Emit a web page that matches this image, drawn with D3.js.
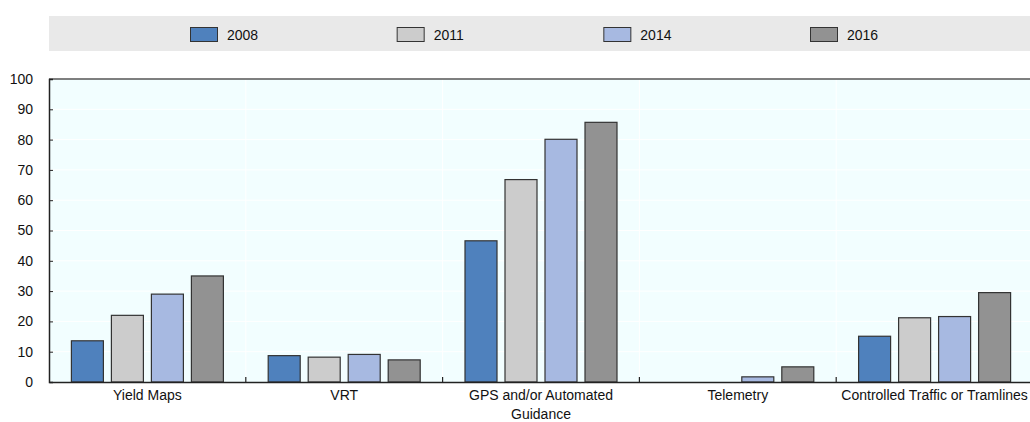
<!DOCTYPE html>
<html><head><meta charset="utf-8">
<script src="https://cdn.jsdelivr.net/npm/d3@7"></script>
<style>body{margin:0;background:#fff}svg{display:block;font-family:"Liberation Sans",Arial,sans-serif}</style>
</head><body><svg id="c" width="1030" height="422"></svg>
<script>
const categories = ["Yield Maps","VRT","GPS and/or Automated Guidance","Telemetry","Controlled Traffic or Tramlines"];
const categoryLines = [["Yield Maps"],["VRT"],["GPS and/or Automated","Guidance"],["Telemetry"],["Controlled Traffic or Tramlines"]];
const years = ["2008","2011","2014","2016"];
const v2008 = [13.6, 8.7, 46.6, null, 15.1];
const v2011 = [22.0, 8.2, 66.8, null, 21.2];
const v2014 = [29.0, 9.1, 80.1, 1.7, 21.6];
const v2016 = [35.0, 7.3, 85.7, 5.0, 29.5];
const yTicks = [0,10,20,30,40,50,60,70,80,90,100];
const colors = ["#4f81bd","#cccccc","#a7b9e1","#929292"];
const series = [v2008, v2011, v2014, v2016];

const svg = d3.select("#c");
const L = 49, R = 1033, T = 79, B = 382;
const x = d3.scaleBand().domain(categories).range([L, R]);
const xi = d3.scaleBand().domain(years).range([0, x.bandwidth()]).paddingInner(0.2).paddingOuter(0.56);
const y = d3.scaleLinear().domain([0,100]).range([B, T]);

// legend band
svg.append("rect").attr("x", L).attr("y", 16).attr("width", 1030 - L).attr("height", 35).attr("fill", "#e9e9e9");
const lx = d3.scalePoint().domain(years).range([190, 810]);
years.forEach((yr, i) => {
  svg.append("rect").attr("x", lx(yr) + 0.5).attr("y", 27.5).attr("width", 27).attr("height", 14)
    .attr("fill", colors[i]).attr("stroke", "#333").attr("stroke-width", 1);
  svg.append("text").attr("x", lx(yr) + 37).attr("y", 39.5).attr("font-size", 14).attr("fill", "#111").text(yr);
});

// plot background
svg.append("rect").attr("x", L).attr("y", T).attr("width", R - L).attr("height", B - T).attr("fill", "#f2feff");
// faint gridlines
svg.append("g").selectAll("line").data(yTicks.slice(1, -1)).join("line")
  .attr("x1", L).attr("x2", R).attr("y1", d => y(d)).attr("y2", d => y(d))
  .attr("stroke", "#ffffff").attr("stroke-width", 1);
svg.append("g").selectAll("line").data(categories.slice(1)).join("line")
  .attr("x1", d => x(d)).attr("x2", d => x(d)).attr("y1", T).attr("y2", B)
  .attr("stroke", "#ffffff").attr("stroke-width", 1);

// bars
categories.forEach((c, ci) => {
  years.forEach((yr, si) => {
    const v = series[si][ci];
    if (v == null) return;
    svg.append("rect")
      .attr("x", x(c) + xi(yr)).attr("y", y(v))
      .attr("width", xi.bandwidth()).attr("height", B - y(v))
      .attr("fill", colors[si]).attr("stroke", "#333").attr("stroke-width", 1.2);
  });
});

// top border
svg.append("line").attr("x1", L).attr("x2", R).attr("y1", T).attr("y2", T).attr("stroke", "#555").attr("stroke-width", 1.5);

// y axis
const ya = svg.append("g").attr("transform", `translate(${L},0)`)
  .call(d3.axisLeft(y).tickValues(yTicks).tickSize(-4).tickPadding(16));
ya.select(".domain").attr("stroke", "#222").attr("stroke-width", 1.5);
ya.selectAll(".tick line").attr("stroke", "#222");
ya.selectAll("text").attr("font-size", 14).attr("fill", "#111").attr("font-family", "Liberation Sans, Arial, sans-serif");

// x axis
const xa = svg.append("g").attr("transform", `translate(0,${B})`)
  .call(d3.axisBottom(x).tickSize(0).tickFormat(""));
xa.select(".domain").attr("stroke", "#222").attr("stroke-width", 1.5);
// category separator ticks
svg.append("g").selectAll("line").data(categories.slice(1)).join("line")
  .attr("x1", d => x(d)).attr("x2", d => x(d)).attr("y1", B).attr("y2", B - 5)
  .attr("stroke", "#222").attr("stroke-width", 1.2);
// labels
categories.forEach((c, ci) => {
  const t = svg.append("text").attr("x", x(c) + x.bandwidth() / 2).attr("y", 400)
    .attr("text-anchor", "middle").attr("font-size", 14).attr("fill", "#111");
  categoryLines[ci].forEach((ln, li) => {
    t.append("tspan").attr("x", x(c) + x.bandwidth() / 2).attr("dy", li === 0 ? 0 : 19).text(ln);
  });
});
</script></body></html>
